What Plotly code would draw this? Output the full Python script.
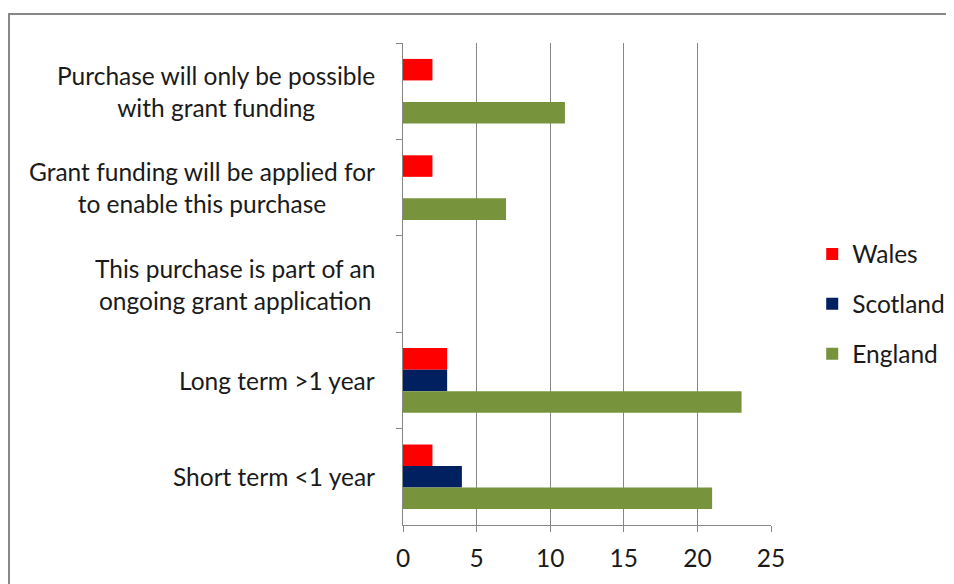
import plotly.graph_objects as go

# Categories, top to bottom as shown in the chart
categories = [
    "Purchase will only be possible<br>with grant funding",
    "Grant funding will be applied for<br>to enable this purchase",
    "This purchase is part of an<br>ongoing grant application",
    "Long term >1 year",
    "Short term <1 year",
]
wales = [2, 2, 0, 3, 2]
scotland = [0, 0, 0, 3, 4]
england = [11, 7, 0, 23, 21]

series_names = ["Wales", "Scotland", "England"]
series_colors = ["#FF0000", "#002060", "#77933C"]
x_ticks = [0, 5, 10, 15, 20, 25]

FONT = "Lato"
FONT_SIZE = 24.5
GRID = "#878787"
TEXT = "#1a1a1a"

fig = go.Figure()
for name, vals, col in zip(series_names, [wales, scotland, england], series_colors):
    fig.add_trace(
        go.Bar(
            y=categories,
            x=vals,
            name=name,
            orientation="h",
            marker={"color": col, "line": {"width": 0}},
            legendgroup=name,
        )
    )

# centred multi-line category labels
for cat in categories:
    fig.add_annotation(
        x=-0.07, xref="paper", y=cat, yref="y",
        text=cat, showarrow=False, xanchor="right", align="center",
        font={"family": FONT, "size": FONT_SIZE, "color": TEXT},
    )

# outer chart border (cropped at right and bottom)
fig.add_shape(
    type="rect", xref="paper", yref="paper",
    x0=-1.0707, x1=1.6, y0=-0.2, y1=1.060,
    line={"color": GRID, "width": 2}, fillcolor="rgba(0,0,0,0)", layer="below",
)

# page body has an 8px margin, so the figure is drawn 8px smaller and shifted
fig.update_layout(
    width=946,
    height=576,
    barmode="group",
    bargap=0.33,
    bargroupgap=0,
    plot_bgcolor="white",
    paper_bgcolor="white",
    margin={"l": 395, "r": 183, "t": 35, "b": 59, "autoexpand": False},
    font={"family": FONT, "size": FONT_SIZE, "color": TEXT},
    legend={
        "x": 1.112, "xanchor": "left", "y": 0.4585, "yanchor": "middle",
        "font": {"family": FONT, "size": FONT_SIZE, "color": TEXT},
        "tracegroupgap": 15, "itemwidth": 30,
    },
    xaxis={
        "range": [0, 25],
        "tickvals": x_ticks,
        "showgrid": True,
        "gridcolor": GRID,
        "gridwidth": 1,
        "zeroline": False,
        "showline": True,
        "linecolor": GRID,
        "ticks": "outside",
        "ticklen": 6,
        "tickcolor": GRID,
        "ticklabelstandoff": 6,
        "tickfont": {"family": FONT, "size": FONT_SIZE},
    },
    yaxis={
        "autorange": "reversed",
        "showticklabels": False,
        "showgrid": False,
        "showline": True,
        "linecolor": GRID,
        "ticks": "outside",
        "tickson": "boundaries",
        "ticklen": 6,
        "tickcolor": GRID,
    },
)

fig.write_html("out.html")
